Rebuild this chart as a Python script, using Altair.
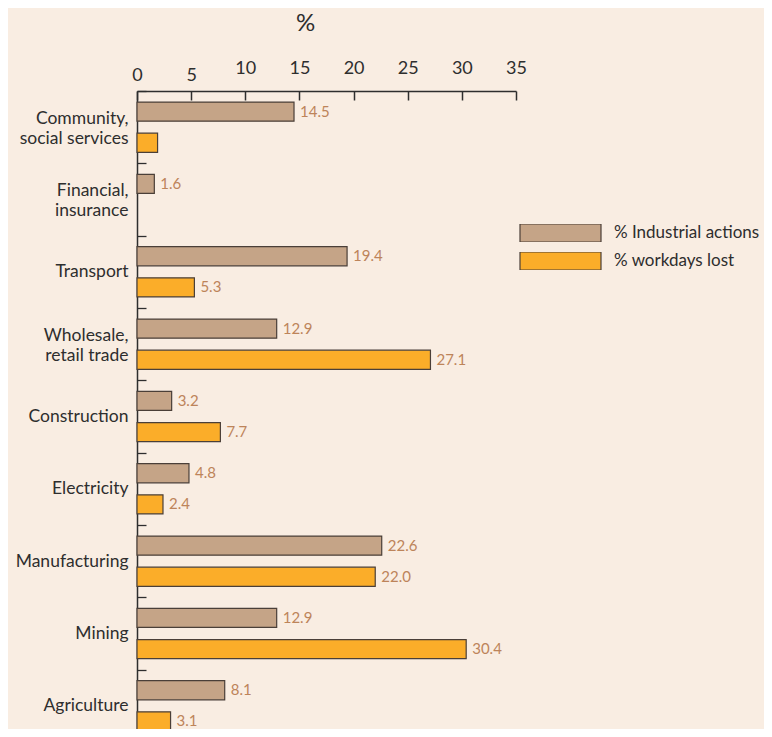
import altair as alt
import pandas as pd

categories = ["Community,|social services", "Financial,|insurance", "Transport",
              "Wholesale,|retail trade", "Construction", "Electricity",
              "Manufacturing", "Mining", "Agriculture"]
series = ["% Industrial actions", "% workdays lost"]
industrial = [14.5, 1.6, 19.4, 12.9, 3.2, 4.8, 22.6, 12.9, 8.1]
workdays = [1.9, None, 5.3, 27.1, 7.7, 2.4, 22.0, 30.4, 3.1]
industrial_labels = ["14.5", "1.6", "19.4", "12.9", "3.2", "4.8", "22.6", "12.9", "8.1"]
workdays_labels = ["", "", "5.3", "27.1", "7.7", "2.4", "22.0", "30.4", "3.1"]
x_ticks = [0, 5, 10, 15, 20, 25, 30, 35]

rows = []
for c, v, l in zip(categories, industrial, industrial_labels):
    rows.append({"category": c, "series": series[0], "value": v, "label": l})
for c, v, l in zip(categories, workdays, workdays_labels):
    rows.append({"category": c, "series": series[1], "value": v, "label": l})
df = pd.DataFrame(rows)

FONT = "Lato"
DARK = "#2e2e2e"
LEGEND_PATH = "M-1,-0.222H1V0.222H-1Z"

base = alt.Chart(df).encode(
    y=alt.Y("category:N", sort=categories,
            scale=alt.Scale(range=[0, 651], paddingInner=0, paddingOuter=0),
            axis=alt.Axis(title=None, orient="left", tickBand="extent",
                          tickSize={"expr": "-9"}, tickWidth=1.3, tickColor=DARK,
                          domainColor=DARK, domainWidth=1.5,
                          labelExpr="split(datum.label, '|')",
                          labelBaseline={"expr": "indexof(datum.label, '|') >= 0 ? 'bottom' : 'middle'"},
                          labelLineHeight=20, labelFontSize=17.5, labelColor=DARK,
                          labelFont=FONT, labelPadding=18)),
    yOffset=alt.YOffset("series:N", sort=series,
                        scale=alt.Scale(paddingInner=0.387, paddingOuter=0.355)),
    x=alt.X("value:Q", scale=alt.Scale(domain=[0, 35], nice=False),
            axis=alt.Axis(orient="top", values=x_ticks, grid=False,
                          tickSize={"expr": "-9"}, tickWidth=1.5, tickColor=DARK,
                          domainColor=DARK, domainWidth=1.5,
                          labelFontSize=18, labelColor=DARK, labelFont=FONT,
                          labelPadding=23, labelFlush=False, labelLineHeight=4,
                          labelBaseline={"expr": "datum.value < 10 ? 'line-bottom' : 'bottom'"},
                          title="%", titleFontSize=24, titleFontWeight="normal",
                          titleFont=FONT, titleColor=DARK,
                          titleX=168, titleY=-68, titleBaseline="middle",
                          titleAlign="center")),
)

bars = base.mark_bar(stroke="#4a3f38", strokeWidth=1.2).encode(
    color=alt.Color("series:N", sort=series,
                    scale=alt.Scale(domain=series, range=["#c5a487", "#fbad29"]),
                    legend=alt.Legend(title=None, orient="none", legendX=382, legendY=133,
                                      symbolType=LEGEND_PATH, symbolSize=6561,
                                      clipHeight=18, symbolStrokeColor="#4a3f38",
                                      symbolStrokeWidth=1.2, symbolOpacity=1,
                                      labelFontSize=17, labelFont=FONT, labelColor=DARK,
                                      labelOffset=12, rowPadding=10, padding=0,
                                      labelLimit=300)),
)

labels = base.mark_text(align="left", baseline="middle", dx=6, fontSize=15,
                        font=FONT, color="#bd845a").encode(text="label:N")

chart = alt.layer(bars, labels).properties(
    width=379, height=638,
    autosize=alt.AutoSizeParams(type="none"),
    padding={"left": 129, "top": 83, "right": 248, "bottom": 0},
    background="#f9ede2",
).configure_view(stroke=None)

chart.save("out.html", embed_options={"renderer": "svg", "actions": False})
